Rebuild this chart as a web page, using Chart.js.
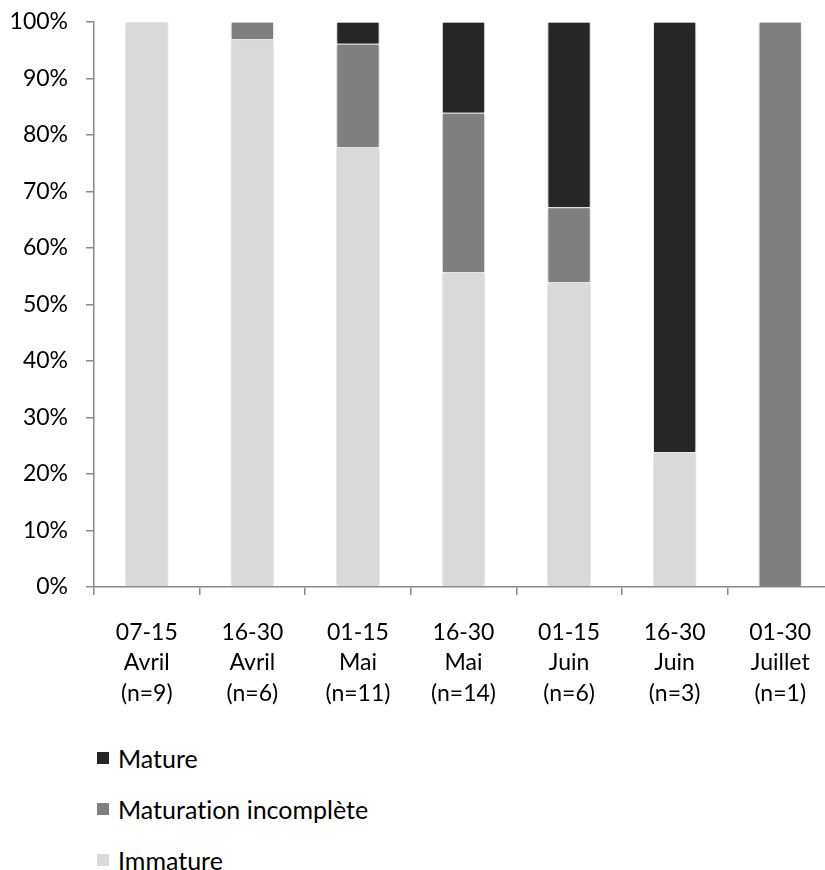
<!DOCTYPE html>
<html>
<head>
<meta charset="utf-8">
<script src="https://cdn.jsdelivr.net/npm/chart.js@4"></script>
<style>
  body { margin: 0; background: #fff; overflow: hidden; font-family: Lato, 'Open Sans', sans-serif; }
  #wrap { position: absolute; left: 0; top: -10px; width: 845px; height: 730px; }
  #legend { position: absolute; left: 97px; top: 732px; }
  .leg-row { height: 51px; display: flex; align-items: center; font-size: 25px; color: #000; font-variant-ligatures: none; }
  .leg-box { width: 12px; height: 12px; margin-right: 9px; }
</style>
</head>
<body>
<div id="wrap"><canvas id="chart"></canvas></div>
<div id="legend"></div>
<script>
const categories = [
  ['07-15', 'Avril', '(n=9)'],
  ['16-30', 'Avril', '(n=6)'],
  ['01-15', 'Mai', '(n=11)'],
  ['16-30', 'Mai', '(n=14)'],
  ['01-15', 'Juin', '(n=6)'],
  ['16-30', 'Juin', '(n=3)'],
  ['01-30', 'Juillet', '(n=1)']
];
const immature   = [100, 96.9, 77.8, 55.7, 53.9, 23.9, 0];
const incomplete = [0, 3.1, 18.3, 28.2, 13.3, 0, 100];
const mature     = [0, 0, 3.9, 16.1, 32.8, 76.1, 0];
const yTicks = [0, 10, 20, 30, 40, 50, 60, 70, 80, 90, 100];

const axisColor = '#8a8a8a';
const font = { family: 'Lato', size: 23 };

// soft shadow round the bars, like the source
const barShadow = {
  id: 'barShadow',
  beforeDatasetsDraw(chart) {
    const c = chart.ctx;
    c.save();
    c.shadowColor = 'rgba(0,0,0,0.3)';
    c.shadowBlur = 5;
  },
  afterDatasetsDraw(chart) { chart.ctx.restore(); }
};

const ds = (label, data, color) => ({
  label, data, backgroundColor: color, borderColor: '#fff', borderWidth: 1,
  categoryPercentage: 1, barPercentage: 0.41
});

const chart = new Chart(document.getElementById('chart'), {
  type: 'bar',
  data: {
    labels: categories,
    datasets: [
      ds('Immature', immature, '#d9d9d9'),
      ds('Maturation incomplète', incomplete, '#7f7f7f'),
      ds('Mature', mature, '#262626')
    ]
  },
  options: {
    responsive: true, maintainAspectRatio: false, animation: false,
    layout: { padding: { top: 12, right: 12, left: 0, bottom: 0 } },
    plugins: { legend: { display: false }, tooltip: { enabled: false } },
    scales: {
      x: {
        stacked: true,
        afterFit: s => { s.height = 133; },
        border: { color: axisColor, width: 1.5 },
        grid: { drawOnChartArea: false, drawTicks: true, tickLength: 8, color: axisColor, lineWidth: 1.5 },
        ticks: { color: '#000', font: { ...font, lineHeight: 1.33 }, padding: 22, maxRotation: 0, autoSkip: false }
      },
      y: {
        stacked: true, min: 0, max: 100,
        afterFit: s => { s.width = 94; },
        afterBuildTicks: s => { s.ticks = yTicks.map(v => ({ value: v })); },
        border: { color: axisColor, width: 1.5 },
        grid: { drawOnChartArea: false, drawTicks: true, tickLength: 8, color: axisColor, lineWidth: 1.5 },
        ticks: { color: '#000', font, padding: 18, callback: v => v + '%' }
      }
    }
  },
  plugins: [barShadow]
});

// vertical legend, Mature first
document.getElementById('legend').innerHTML = chart.data.datasets.slice().reverse().map(d =>
  `<div class="leg-row"><span class="leg-box" style="background:${d.backgroundColor}"></span>${d.label}</div>`
).join('');
</script>
</body>
</html>
